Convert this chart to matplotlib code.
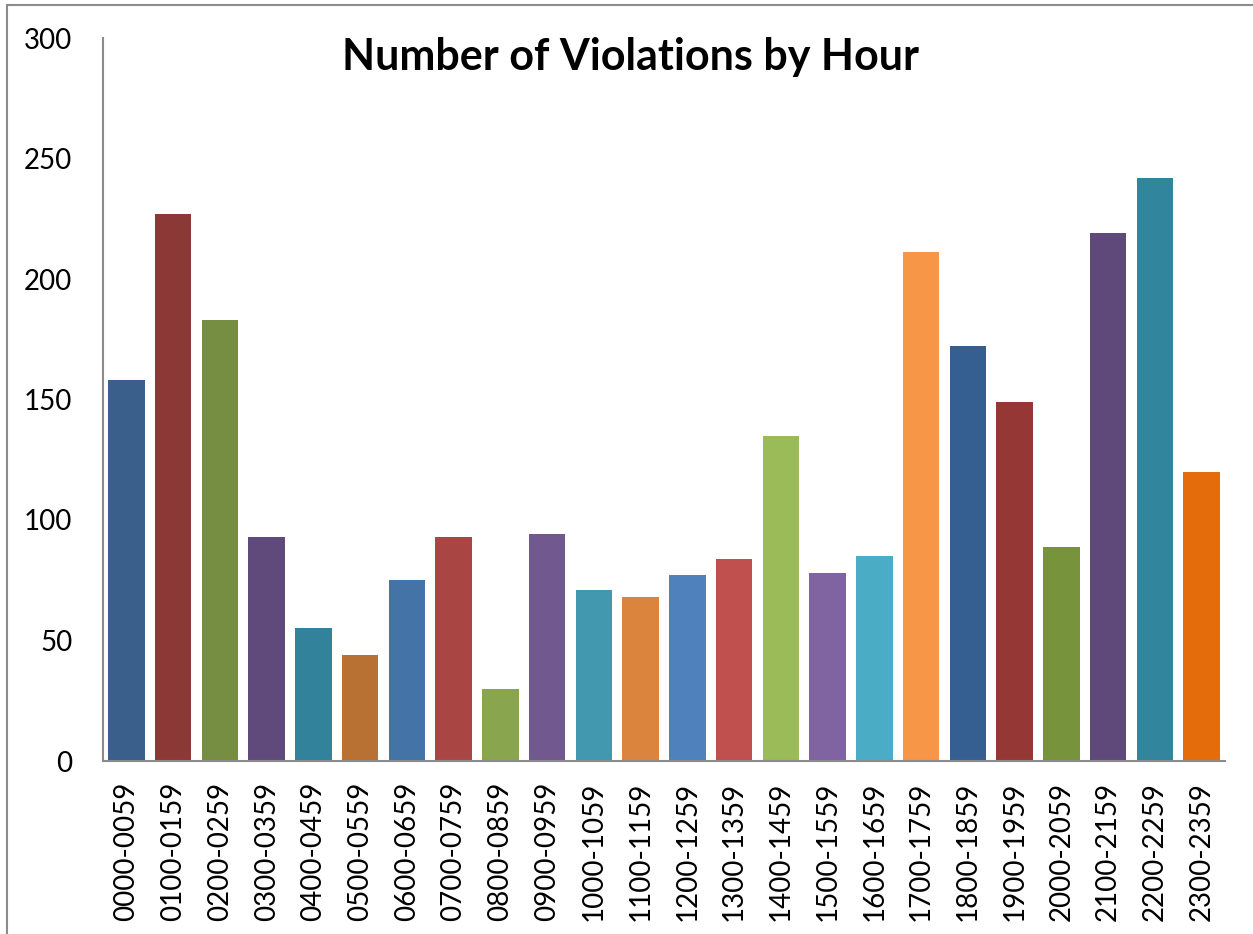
import matplotlib.pyplot as plt
from matplotlib.patches import Rectangle

# hourly buckets and counts
hours = ['0000-0059', '0100-0159', '0200-0259', '0300-0359', '0400-0459', '0500-0559',
         '0600-0659', '0700-0759', '0800-0859', '0900-0959', '1000-1059', '1100-1159',
         '1200-1259', '1300-1359', '1400-1459', '1500-1559', '1600-1659', '1700-1759',
         '1800-1859', '1900-1959', '2000-2059', '2100-2159', '2200-2259', '2300-2359']
violations = [158, 227, 183, 93, 55, 44, 75, 93, 30, 94, 71, 68,
              77, 84, 135, 78, 85, 211, 172, 149, 89, 219, 242, 120]
bar_colors = ['#3A5F8B', '#8C3836', '#758E41', '#604A7B', '#31829A', '#B87033',
              '#4473A7', '#A94644', '#89A54E', '#71588F', '#4298AF', '#DB843D',
              '#4F81BD', '#C0504D', '#9BBB59', '#8064A2', '#4BACC6', '#F79646',
              '#365F91', '#953735', '#77933C', '#5F497A', '#31859C', '#E46C0A']

plt.rcParams['font.family'] = ['Lato', 'DejaVu Sans']

fig = plt.figure(figsize=(12.53, 9.34), dpi=100)
ax = fig.add_axes([103 / 1253, 1 - 761 / 934, 1122 / 1253, 723 / 934])

x = range(len(hours))
ax.bar(x, violations, width=0.78, color=bar_colors)

ax.set_xlim(-0.5, len(hours) - 0.5)
ax.set_ylim(0, 300)
ax.set_yticks(range(0, 301, 50))
ax.set_xticks(list(x))
ax.set_xticklabels(hours, rotation=90)
ax.tick_params(axis='y', length=0, pad=22, labelsize=20)
ax.tick_params(axis='x', length=0, pad=15, labelsize=20)

for s in ['top', 'right']:
    ax.spines[s].set_visible(False)
for s in ['left', 'bottom']:
    ax.spines[s].set_color('#8c8c8c')
    ax.spines[s].set_linewidth(1.5)

fig.text(630 / 1253, 1 - 57 / 934, 'Number of Violations by Hour',
         ha='center', va='center', fontsize=31, fontweight='bold')

# outer chart border
fig.patches.append(Rectangle((7 / 1253, -0.05), 1.1, 1 - 4.5 / 934 + 0.05,
                             transform=fig.transFigure, fill=False,
                             edgecolor='#8c8c8c', linewidth=1.5))

fig.savefig('out.png', dpi=100)
